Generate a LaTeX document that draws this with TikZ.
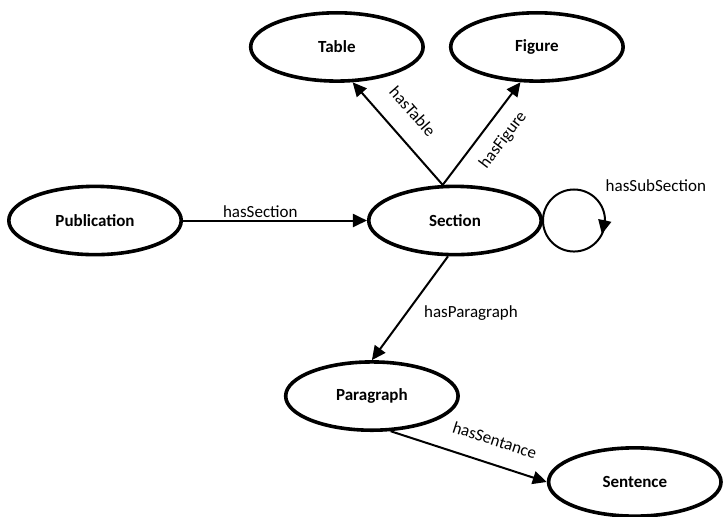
\documentclass[tikz,border=0pt]{standalone}
\usepackage{fontspec}
\setmainfont{Carlito}
\usepackage{tikz}
\usetikzlibrary{shapes.geometric,arrows.meta}

\begin{document}
\begin{tikzpicture}[
  concept/.style={ellipse, draw, line width=3.6pt, minimum width=6.06cm, minimum height=2.40cm,
    font=\fontsize{17}{20}\selectfont\bfseries},
  rel/.style={line width=2pt, -{Triangle[length=14pt,width=13pt]}},
  lbl/.style={font=\fontsize{17}{20}\selectfont, inner sep=1pt}
]
\useasboundingbox (0, 0) rectangle (25.41, -18.17);
\node[concept] (pub) at (3.34, -7.75) {Publication};
\node[concept] (sec) at (15.99, -7.75) {Section};
\node[concept] (tab) at (11.84, -1.65) {Table};
\node[concept] (fig) at (18.87, -1.65) {Figure};
\node[concept] (par) at (13.07, -13.92) {Paragraph};
\node[concept] (sen) at (22.31, -16.94) {Sentence};
\draw[rel] (pub) -- node[lbl, pos=0.42, above=1pt]{hasSection} (sec);
\draw[rel] (sec.109) -- node[lbl, pos=0.55, sloped, above=18pt]{hasTable} (tab.-66);
\draw[rel] (sec.109) -- node[lbl, pos=0.56, sloped, below=12pt]{hasFigure} (fig.-115);
\draw[rel] (sec.-101) -- node[lbl, pos=0.55, right=16pt]{hasParagraph} (par.north);
\draw[rel] (par.-62) -- node[lbl, pos=0.62, sloped, above=16pt]{hasSentance} (sen.west);
% self loop on Section
\draw[line width=2pt] (sec.east) arc[start angle=180, end angle=-180, radius=1.09];
\path (sec.east) arc[start angle=180, end angle=2, radius=1.09] coordinate (lpa)
  arc[start angle=2, end angle=-26, radius=1.09] coordinate (lpb);
\draw[rel] (lpa) -- (lpb);
\node[lbl] (subl) at (23.05, -6.54) {hasSubSection};
\end{tikzpicture}
\end{document}
